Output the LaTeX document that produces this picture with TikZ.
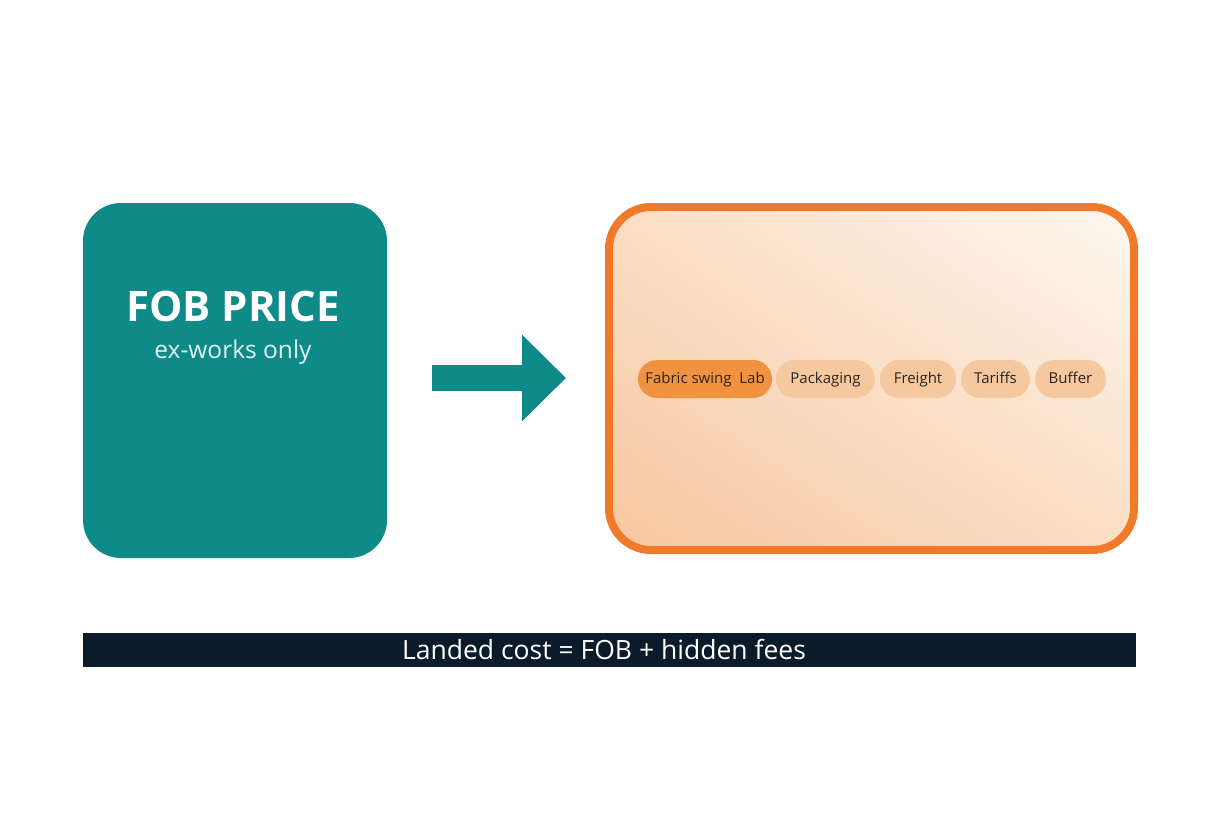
\documentclass[tikz,border=0pt]{standalone}
\usepackage{fontspec}
\setmainfont{Open Sans}
\usetikzlibrary{arrows.meta,shadings}
\definecolor{teal1}{HTML}{0E8A88}
\definecolor{orng}{HTML}{F07A2A}
\definecolor{pilldark}{HTML}{F0923F}
\definecolor{pill}{HTML}{F6C8A0}
\definecolor{peachA}{HTML}{F7C6A0}
\definecolor{peachB}{HTML}{FEF7F0}
\definecolor{peachC}{HTML}{FBDEC4}
\definecolor{bar}{HTML}{0B1B2A}
\definecolor{txt}{HTML}{2A2420}
\tikzset{
  pillbox/.style={fill=pill, rounded corners=19pt, minimum height=38pt, inner sep=0pt, text=txt, text height=11pt, text depth=3pt, font=\fontsize{15}{18}\selectfont},
}
\begin{document}
\begin{tikzpicture}[x=1pt,y=-1pt]
\useasboundingbox (0,0) rectangle (1216,832);
\fill[white] (0,0) rectangle (1216,832);
% teal box
\node[fill=teal1, rounded corners=38pt, minimum width=304pt, minimum height=355pt, inner sep=0pt] (fob) at (235,380.5) {};
\node[text=white, font=\bfseries\fontsize{42}{46}\selectfont] (fobt) at (233,306) {FOB PRICE};
\node[text=white!88!teal1, font=\fontsize{24.5}{28}\selectfont] (fobs) at (233,352) {ex-works only};
% orange box
\shade[rounded corners=42pt, lower left=peachA, upper right=peachB, upper left=peachC, lower right=peachC]
  (609,207) rectangle (1134,550);
\node[draw=orng, line width=8pt, rounded corners=42pt, minimum width=525pt, minimum height=343pt, inner sep=0pt] (land) at (871.5,378.5) {};
% arrow
\coordinate (as) at (432,378);
\coordinate (ae) at (566,378);
\draw[teal1, line width=26pt, -{Triangle[length=44pt,width=84pt]}] (as) -- (ae);
% pills
\node[pillbox, fill=pilldark, minimum width=134pt] (p1) at (705,379) {Fabric swing\ \ Lab};
\node[pillbox, minimum width=99pt] (p2) at (825.5,379) {Packaging};
\node[pillbox, minimum width=76pt] (p3) at (918,379) {Freight};
\node[pillbox, minimum width=69pt] (p4) at (995.5,379) {Tariffs};
\node[pillbox, minimum width=71pt] (p5) at (1070.5,379) {Buffer};
% bottom bar
\node[fill=bar, minimum width=1053pt, minimum height=34pt, inner sep=0pt] (barn) at (609.5,650) {};
\node[text=white, font=\fontsize{26.5}{30}\selectfont] (bart) at (604,649) {Landed cost = FOB + hidden fees};
\end{tikzpicture}
\end{document}
